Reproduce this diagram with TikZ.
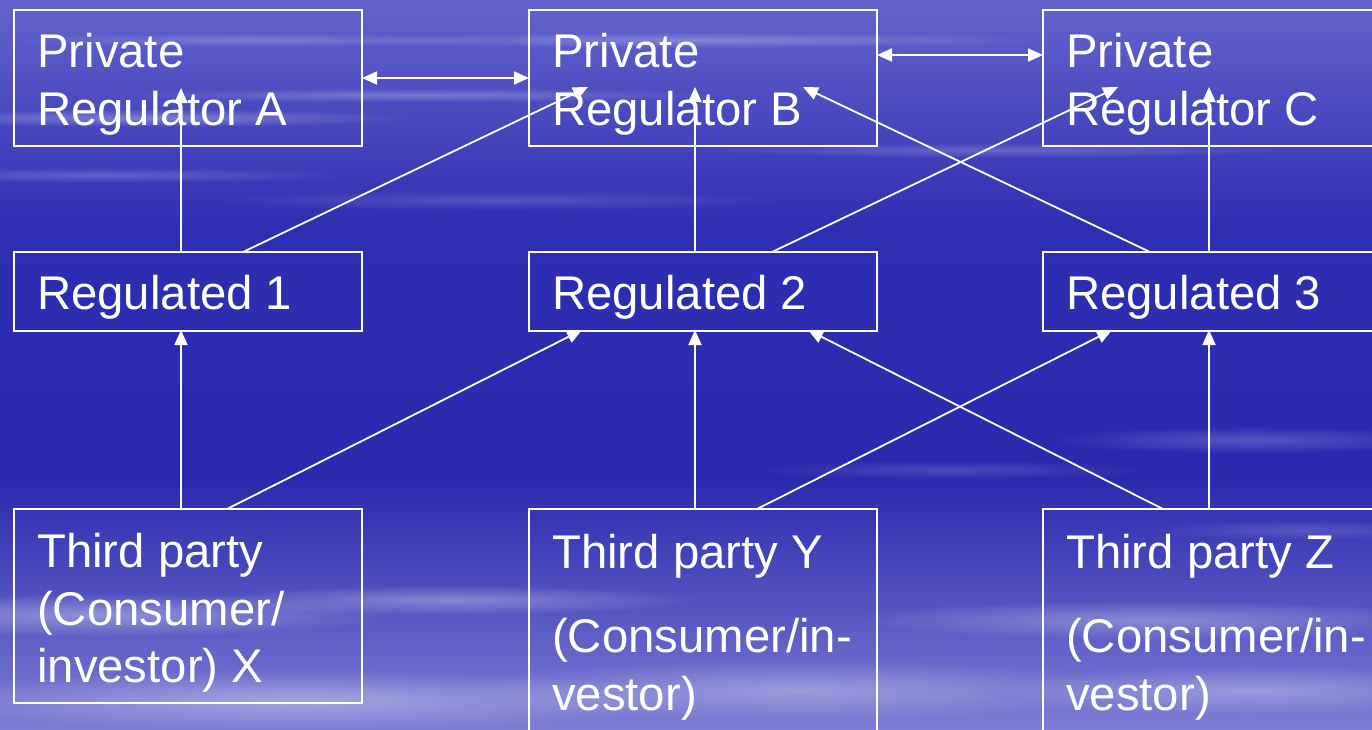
\documentclass[tikz,border=0pt]{standalone}
\usepackage{fontspec}
\setmainfont{Liberation Sans}
\usetikzlibrary{arrows.meta,fadings}
\tikzfading[name=softblob, inner color=transparent!0, outer color=transparent!100]
\definecolor{bgtop}{RGB}{100,100,205}
\definecolor{bgmid}{RGB}{46,46,178}
\definecolor{bgdark}{RGB}{42,42,174}
\definecolor{bgbot}{RGB}{125,125,212}
\tikzset{
  box/.style={draw=white, line width=1.8pt, rectangle, minimum width=348pt, outer sep=0pt, inner sep=0pt, anchor=north west},
  txt/.style={text=white, anchor=base west, inner sep=0pt, font=\fontsize{47.3}{56}\selectfont},
  arr/.style={draw=white, line width=1.8pt, -{Triangle[length=15pt,width=13pt]}},
  darr/.style={draw=white, line width=1.8pt, {Triangle[length=15pt,width=13pt]}-{Triangle[length=15pt,width=13pt]}},
  streak/.style={fill=white, path fading=softblob}
}
\begin{document}
\begin{tikzpicture}[x=1pt,y=-1pt]
\clip (0,0) rectangle (1372,729);
\useasboundingbox (0,0) rectangle (1372,729);
% background
\shade[top color=bgtop, bottom color=bgmid] (0,0) rectangle (1372,230);
\shade[top color=bgmid, bottom color=bgdark] (0,229) rectangle (1372,480);
\shade[top color=bgdark, bottom color=bgbot] (0,479) rectangle (1372,729);
% cloud streaks
\fill[streak, opacity=0.30] (150,118) ellipse (260 and 9);
\fill[streak, opacity=0.25] (420,95) ellipse (300 and 7);
\fill[streak, opacity=0.25] (700,40) ellipse (350 and 8);
\fill[streak, opacity=0.20] (250,40) ellipse (250 and 7);
\fill[streak, opacity=0.20] (1000,150) ellipse (300 and 8);
\fill[streak, opacity=0.20] (100,175) ellipse (250 and 8);
\fill[streak, opacity=0.15] (500,200) ellipse (300 and 10);
\fill[streak, opacity=0.20] (1250,440) ellipse (200 and 14);
\fill[streak, opacity=0.15] (950,470) ellipse (200 and 10);
\fill[streak, opacity=0.15] (1300,530) ellipse (150 and 10);
\fill[streak, opacity=0.35] (100,615) ellipse (300 and 22);
\fill[streak, opacity=0.30] (450,600) ellipse (250 and 15);
\fill[streak, opacity=0.35] (300,700) ellipse (400 and 30);
\fill[streak, opacity=0.30] (800,690) ellipse (350 and 30);
\fill[streak, opacity=0.30] (1150,620) ellipse (300 and 20);
\fill[streak, opacity=0.30] (1250,690) ellipse (250 and 25);
% boxes
\node[box, minimum height=136pt] (A) at (14,10) {};
\node[box, minimum height=136pt] (B) at (529,10) {};
\node[box, minimum height=136pt] (C) at (1043,10) {};
\node[box, minimum height=79pt] (R1) at (14,252) {};
\node[box, minimum height=79pt] (R2) at (529,252) {};
\node[box, minimum height=79pt] (R3) at (1043,252) {};
\node[box, minimum height=194pt] (X) at (14,509) {};
\node[box, minimum height=240pt] (Y) at (529,509) {};
\node[box, minimum height=240pt] (Z) at (1043,509) {};
% texts
\node[txt] (A1) at (37,67) {Private};
\node[txt] (A2) at (37,125) {Regulator A};
\node[txt] (B1) at (552,67) {Private};
\node[txt] (B2) at (552,125) {Regulator B};
\node[txt] (C1) at (1066,67) {Private};
\node[txt] (C2) at (1066,125) {Regulator C};
\node[txt] (R1t) at (37,309) {Regulated 1};
\node[txt] (R2t) at (552,309) {Regulated 2};
\node[txt] (R3t) at (1066,309) {Regulated 3};
\node[txt] (X1) at (37,567) {Third party};
\node[txt] (X2) at (37,625) {(Consumer/};
\node[txt] (X3) at (37,682) {investor) X};
\node[txt] (Y1) at (552,568) {Third party Y};
\node[txt] (Y2) at (552,652) {(Consumer/in-};
\node[txt] (Y3) at (552,710) {vestor)};
\node[txt] (Z1) at (1066,568) {Third party Z};
\node[txt] (Z2) at (1066,652) {(Consumer/in-};
\node[txt] (Z3) at (1066,710) {vestor)};
% arrow tip coordinates
\coordinate (tA) at (181,88);
\coordinate (tB1) at (588,87);
\coordinate (tB2) at (695,87);
\coordinate (tB3) at (803,87);
\coordinate (tC1) at (1118,87);
\coordinate (tC2) at (1209,87);
\coordinate (tR1) at (181,330);
\coordinate (tR2a) at (582,330);
\coordinate (tR2b) at (695,330);
\coordinate (tR2c) at (808,330);
\coordinate (tR3a) at (1112,330);
\coordinate (tR3b) at (1209,330);
% horizontal double arrows
\draw[darr] (A.east) -- (B.west);
\draw[darr] ([yshift=-45pt]B.north east) -- ([yshift=-45pt]C.north west);
% regulated -> regulators
\draw[arr] (tA |- R1.north) -- (tA);
\draw[arr] ([xshift=229pt]R1.north west) -- (tB1);
\draw[arr] (tB2 |- R2.north) -- (tB2);
\draw[arr] ([xshift=243pt]R2.north west) -- (tC1);
\draw[arr] ([xshift=107pt]R3.north west) -- (tB3);
\draw[arr] (tC2 |- R3.north) -- (tC2);
% third parties -> regulated
\draw[arr] (tR1 |- X.north) -- (tR1);
\draw[arr] ([xshift=213pt]X.north west) -- (tR2a);
\draw[arr] (tR2b |- Y.north) -- (tR2b);
\draw[arr] ([xshift=228pt]Y.north west) -- (tR3a);
\draw[arr] ([xshift=120pt]Z.north west) -- (tR2c);
\draw[arr] (tR3b |- Z.north) -- (tR3b);
\end{tikzpicture}
\end{document}
